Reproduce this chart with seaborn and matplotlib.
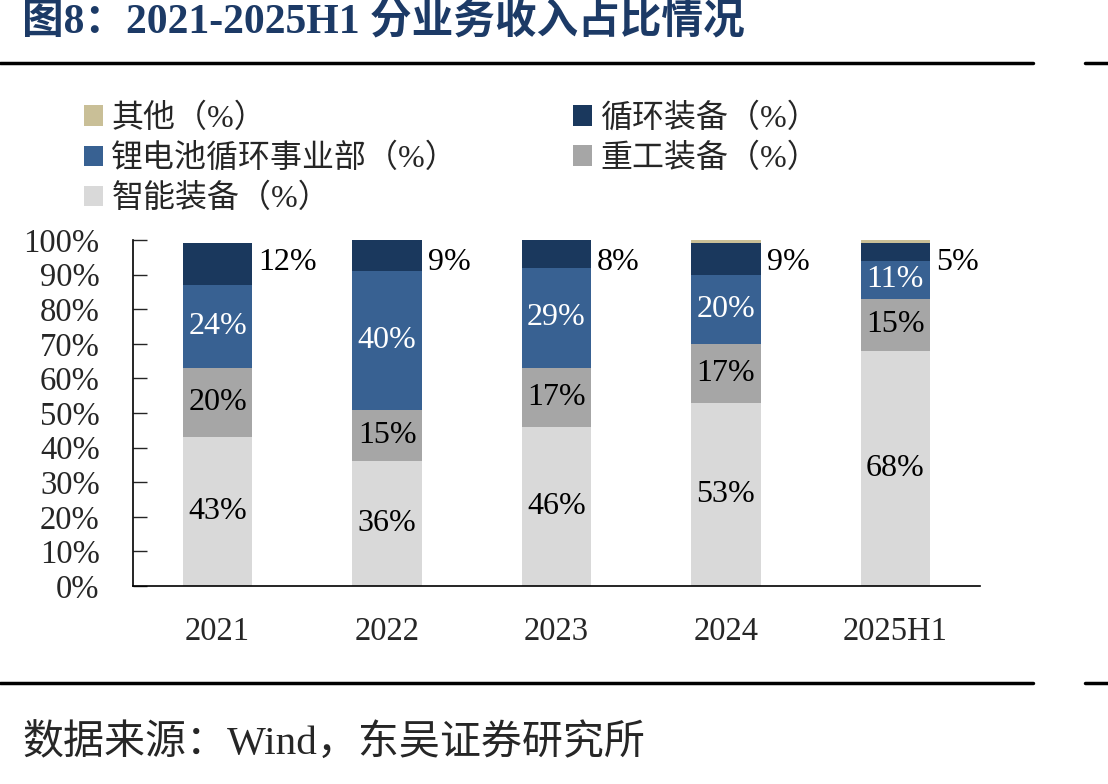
import numpy as np
import pandas as pd
from matplotlib import pyplot as plt
from matplotlib.patches import Patch
from matplotlib.lines import Line2D
import seaborn as sns

years = ['2021', '2022', '2023', '2024', '2025H1']
smart = [43, 36, 46, 53, 68]      # 智能装备
heavy = [20, 15, 17, 17, 15]      # 重工装备
lithium = [24, 40, 29, 20, 11]    # 锂电池循环事业部
cycle = [12, 9, 8, 9, 5]          # 循环装备
other = [0, 0, 0, 1, 1]           # 其他

names = ['智能装备（%）', '重工装备（%）', '锂电池循环事业部（%）', '循环装备（%）', '其他（%）']
colors = ['#D9D9D9', '#A6A6A6', '#386192', '#1A385D', '#C9BF97']
txt_colors = ['black', 'black', 'white', None, None]

sns.set_style('white')
plt.rcParams['font.family'] = ['Liberation Serif', 'Noto Sans CJK SC']

fig = plt.figure(figsize=(11.08, 7.84), dpi=100)
ax = fig.add_axes([0.12, 0.2526, 0.7645, 0.4413])

series = [smart, heavy, lithium, cycle, other]
bottom = np.zeros(len(years))
for i, vals in enumerate(series):
    vals = np.array(vals, dtype=float)
    sns.barplot(x=years, y=vals, bottom=bottom, color=colors[i], width=0.41,
                saturation=1, ax=ax, linewidth=0)
    cont = ax.containers[-1]
    if i < 3:
        ax.bar_label(cont, labels=[f'{v:.0f}%' for v in vals], label_type='center',
                     color=txt_colors[i], fontsize=23)
    elif i == 3:
        for j, v in enumerate(vals):
            ax.text(j + 0.24, 93.5, f'{v:.0f}%', fontsize=23,
                    va='center', ha='left', color='black')
    bottom = bottom + vals

ax.set_ylim(0, 100)
ax.set_xlim(-0.5, 4.5)
ax.set_yticks(np.arange(0, 101, 10))
ax.set_yticklabels([f'{t}%' for t in range(0, 101, 10)])
ax.tick_params(axis='y', direction='in', length=10, width=1, labelsize=23.5, pad=24, left=True)
ax.tick_params(axis='x', length=0, labelsize=23.5, pad=22)
for s in ['top', 'right']:
    ax.spines[s].set_visible(False)
for s in ['left', 'bottom']:
    ax.spines[s].set_color('black')
    ax.spines[s].set_linewidth(1.2)
ax.set_xlabel('')
ax.set_ylabel('')

order = [4, 2, 0, 3, 1]
handles = [Patch(facecolor=colors[k], edgecolor='none') for k in order]
labels = [names[k] for k in order]
fig.legend(handles, labels, ncol=2, loc='upper left', bbox_to_anchor=(0.05, 0.905),
           frameon=False, fontsize=23, handlelength=0.6, handleheight=0.6,
           handletextpad=0.25, columnspacing=3.6, labelspacing=0.3)

fig.text(0.02, 0.972, '图8：2021-2025H1 分业务收入占比情况', fontsize=30, fontweight='bold',
         color='#1C3A66', va='center', ha='left')
fig.text(0.02, 0.05, '数据来源：Wind，东吴证券研究所', fontsize=29.5, va='center', ha='left')

for yy in [1 - 63 / 784, 1 - 683 / 784]:
    fig.add_artist(Line2D([0, 1033 / 1108], [yy, yy], color='black', lw=2.5))
    fig.add_artist(Line2D([1085 / 1108, 1], [yy, yy], color='black', lw=2.5))

fig.savefig('out.png', dpi=100)
